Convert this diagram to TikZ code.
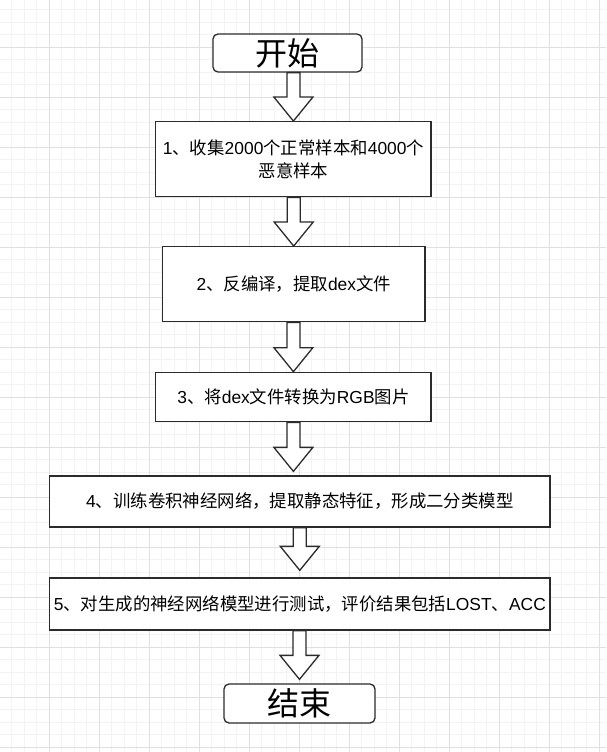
\documentclass[tikz,border=0pt]{standalone}
\usepackage{fontspec}
\setmainfont{Liberation Sans}
\newfontfamily\zhfont{Noto Sans CJK SC}
\newcommand{\zh}[1]{{\zhfont #1}}
\usetikzlibrary{calc}

\definecolor{boxline}{HTML}{2B2B2B}
\definecolor{gridmaj}{HTML}{E0E0E0}
\definecolor{gridmin}{HTML}{F3F3F3}

% hollow block arrow: [gap above target]{source}{target}{node giving the x position}
\newcommand{\fatarrow}[4][0pt]{%
  \draw[fat] let \p1=(#4.center), \p2=(#2.south), \p3=(#3.north) in
    ({\x1-6.5pt},\y2) -- ({\x1-6.5pt},{\y3+#1+24pt}) -- ({\x1-19.5pt},{\y3+#1+24pt})
    -- (\x1,{\y3+#1}) -- ({\x1+19.5pt},{\y3+#1+24pt}) -- ({\x1+6.5pt},{\y3+#1+24pt})
    -- ({\x1+6.5pt},\y2) -- cycle;}

\begin{document}
\begin{tikzpicture}[
  x=1pt, y=-1pt,
  gridminor/.style={draw=gridmin, line width=0.8pt},
  gridmajor/.style={draw=gridmaj, line width=0.9pt},
  term/.style={draw=boxline, fill=white, line width=1.3pt, rounded corners=5pt,
               inner sep=0pt, font=\fontsize{32}{38}\selectfont},
  proc/.style={draw=boxline, fill=white, line width=1.3pt, inner sep=0pt,
               align=center, font=\fontsize{17.4}{23}\selectfont},
  fat/.style={draw=boxline, fill=white, line width=1.3pt, line join=miter},
]

% Background grid
\useasboundingbox (0,0) rectangle (606,752);
\fill[white] (0,0) rectangle (606,752);
\begin{scope}
  \clip (0,0) rectangle (606,752);
  \foreach \i in {0,...,49} {
    \draw[gridminor] ({-0.7+12.5*\i},0) -- ({-0.7+12.5*\i},752);
  }
  \foreach \i in {0,...,61} {
    \draw[gridminor] (0,{-2.7+12.5*\i}) -- (606,{-2.7+12.5*\i});
  }
  \foreach \i in {0,...,12} {
    \draw[gridmajor] ({-0.7+50*\i},0) -- ({-0.7+50*\i},752);
  }
  \foreach \i in {0,...,15} {
    \draw[gridmajor] (0,{-2.7+50*\i}) -- (606,{-2.7+50*\i});
  }
\end{scope}

% Start / end
\node[term, minimum width=149pt, minimum height=38pt] (start) at (287.5,53) {\zh{开始}};
\node[term, minimum width=151pt, minimum height=39pt] (stop) at (299.5,703.5) {\zh{结束}};

% Steps
\node[proc, minimum width=275.3pt, minimum height=75pt] (s1) at (293.4,159.2)
  {1\zh{、收集}2000\zh{个正常样本和}4000\zh{个}\\\zh{恶意样本}};
\node[proc, minimum width=262.7pt, minimum height=75pt] (s2) at (293.7,284.2)
  {2\zh{、反编译，提取}dex\zh{文件}};
\node[proc, minimum width=275.3pt, minimum height=49.4pt] (s3) at (293.4,397)
  {3\zh{、将}dex\zh{文件转换为}RGB\zh{图片}};
\node[proc, minimum width=500.5pt, minimum height=51pt] (s4) at (299.8,501.5)
  {4\zh{、训练卷积神经网络，提取静态特征，形成二分类模型}};
\node[proc, minimum width=500.5pt, minimum height=52pt] (s5) at (299.8,604)
  {5\zh{、对生成的神经网络模型进行测试，评价结果包括}LOST\zh{、}ACC};

% Arrows
\fatarrow{start}{s1}{s1}
\fatarrow{s1}{s2}{s2}
\fatarrow{s2}{s3}{s3}
\fatarrow[4pt]{s3}{s4}{s3}
\fatarrow[7pt]{s4}{s5}{s5}
\fatarrow[4pt]{s5}{stop}{stop}

\end{tikzpicture}
\end{document}
